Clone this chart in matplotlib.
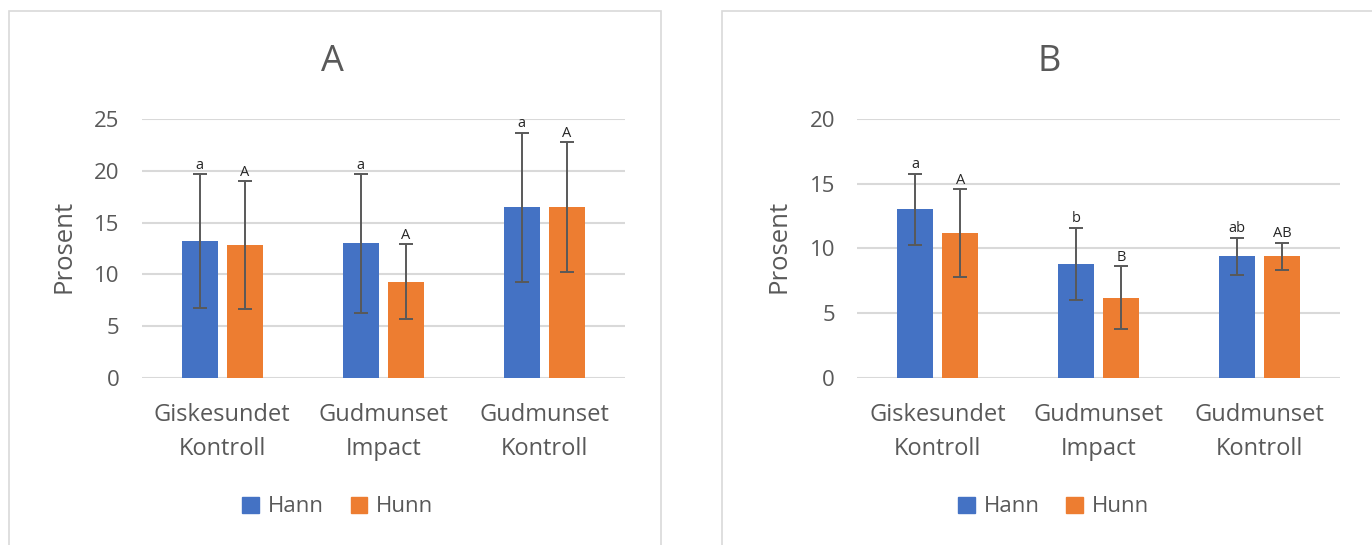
import matplotlib.pyplot as plt
import matplotlib.patches as mpatches
import numpy as np

plt.rcParams['font.family'] = ['Open Sans', 'DejaVu Sans']

categories = ["Giskesundet\nKontroll", "Gudmunset\nImpact", "Gudmunset\nKontroll"]

# A
a_hann = [13.2, 13.0, 16.5]
a_hann_err = [6.5, 6.7, 7.2]
a_hunn = [12.8, 9.3, 16.5]
a_hunn_err = [6.2, 3.6, 6.3]
a_hann_sig = ["a", "a", "a"]
a_hunn_sig = ["A", "A", "A"]

# B
b_hann = [13.05, 8.8, 9.4]
b_hann_err = [2.75, 2.8, 1.45]
b_hunn = [11.2, 6.2, 9.4]
b_hunn_err = [3.4, 2.45, 1.05]
b_hann_sig = ["a", "b", "ab"]
b_hunn_sig = ["A", "B", "AB"]

blue = "#4472C4"
orange = "#ED7D31"
grey_txt = "#595959"
grid_col = "#D9D9D9"

fig = plt.figure(figsize=(13.72, 5.45), dpi=100)

# panel frames
fig.patches.append(mpatches.Rectangle((9 / 1372, -0.1), 652 / 1372, 1 - 11 / 545 + 0.1,
                                      transform=fig.transFigure, fill=False,
                                      edgecolor=grid_col, lw=1.2))
fig.patches.append(mpatches.Rectangle((721.5 / 1372, -0.1), 0.6, 1 - 11 / 545 + 0.1,
                                      transform=fig.transFigure, fill=False,
                                      edgecolor=grid_col, lw=1.2))


def panel(rect, hann, hann_err, hunn, hunn_err, hann_sig, hunn_sig, ymax):
    ax = fig.add_axes(rect)
    x = np.arange(len(categories))
    w = 0.224
    off = 0.14
    ekw = dict(ecolor=grey_txt, elinewidth=1.4, capsize=5, capthick=1.4)
    ax.bar(x - off, hann, w, color=blue, yerr=hann_err, error_kw=ekw, zorder=3, label="Hann")
    ax.bar(x + off, hunn, w, color=orange, yerr=hunn_err, error_kw=ekw, zorder=3, label="Hunn")
    for i in range(len(x)):
        ax.annotate(hann_sig[i], (x[i] - off, hann[i] + hann_err[i]), xytext=(0, 1),
                    textcoords="offset points", ha="center", va="bottom",
                    fontsize=10.5, color="#262626")
        ax.annotate(hunn_sig[i], (x[i] + off, hunn[i] + hunn_err[i]), xytext=(0, 1),
                    textcoords="offset points", ha="center", va="bottom",
                    fontsize=10.5, color="#262626")
    ax.set_xlim(-0.5, 2.5)
    ax.set_ylim(0, ymax)
    ax.set_yticks(np.arange(0, ymax + 1, 5))
    ax.set_xticks(x)
    ax.set_xticklabels(categories, linespacing=1.6)
    ax.yaxis.grid(True, color=grid_col, lw=1.5)
    ax.set_axisbelow(True)
    for s in ax.spines.values():
        s.set_visible(False)
    ax.tick_params(axis="both", length=0, labelsize=16, colors=grey_txt)
    ax.tick_params(axis="y", pad=16)
    ax.tick_params(axis="x", pad=18, labelsize=17)
    return ax


ax_a = panel([141.8 / 1372, 0.307, 483 / 1372, 0.4741],
             a_hann, a_hann_err, a_hunn, a_hunn_err, a_hann_sig, a_hunn_sig, 25)
ax_b = panel([857.2 / 1372, 0.307, 483 / 1372, 0.4741],
             b_hann, b_hann_err, b_hunn, b_hunn_err, b_hann_sig, b_hunn_sig, 20)

fig.text(332 / 1372, 1 - 62 / 545, "A", fontsize=26, color=grey_txt, ha="center", va="center")
fig.text(1049 / 1372, 1 - 62 / 545, "B", fontsize=26, color=grey_txt, ha="center", va="center")
fig.text(64 / 1372, 1 - 246 / 545, "Prosent", fontsize=18.5, color=grey_txt, rotation=90,
         ha="center", va="center")
fig.text(779.5 / 1372, 1 - 246 / 545, "Prosent", fontsize=18.5, color=grey_txt, rotation=90,
         ha="center", va="center")

handles = [mpatches.Patch(color=blue, label="Hann"), mpatches.Patch(color=orange, label="Hunn")]
for cx in [338 / 1372, 1053.7 / 1372]:
    fig.legend(handles=handles, loc="center", bbox_to_anchor=(cx, 1 - 507 / 545), ncol=2,
               frameon=False, fontsize=16, labelcolor=grey_txt, handlelength=0.75,
               handleheight=0.75, handletextpad=0.4, columnspacing=1.2)

fig.savefig("out.png", dpi=100)
